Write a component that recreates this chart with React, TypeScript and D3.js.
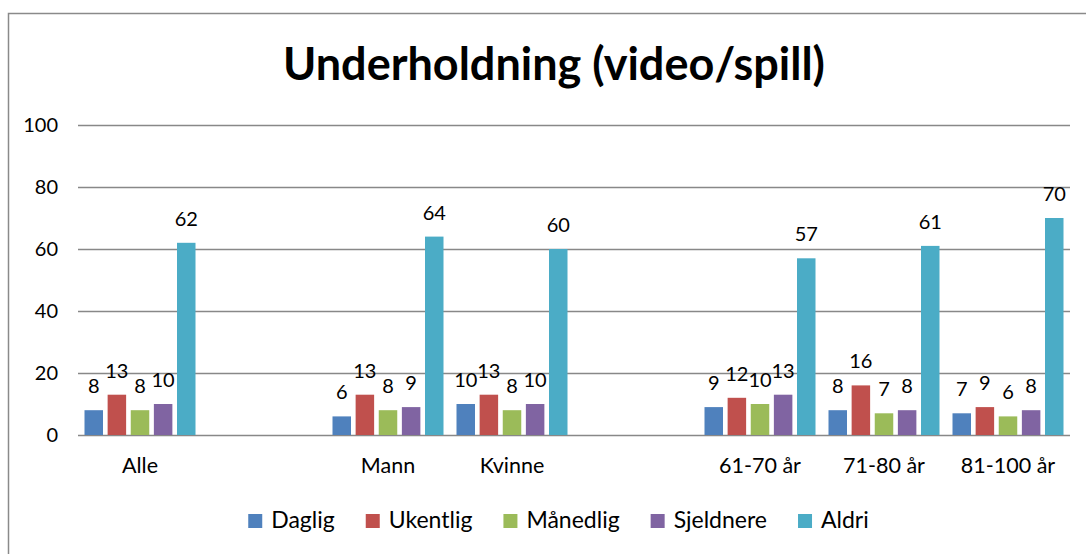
import React, { useEffect, useRef } from 'react';
import * as d3 from 'd3';

const title = 'Underholdning (video/spill)';
const categories = ['Alle', '', 'Mann', 'Kvinne', '', '61-70 år', '71-80 år', '81-100 år'];
const seriesNames = ['Daglig', 'Ukentlig', 'Månedlig', 'Sjeldnere', 'Aldri'];
const colors = ['#4F81BD', '#C0504D', '#9BBB59', '#8064A2', '#4BACC6'];

const daglig = [8, null, 6, 10, null, 9, 8, 7];
const ukentlig = [13, null, 13, 13, null, 12, 16, 9];
const maanedlig = [8, null, 8, 8, null, 10, 7, 6];
const sjeldnere = [10, null, 9, 10, null, 13, 8, 8];
const aldri = [62, null, 64, 60, null, 57, 61, 70];

const yTicks = [0, 20, 40, 60, 80, 100];

const FONT = 'Lato, Carlito, Calibri, sans-serif';

const App = () => {
  const ref = useRef<SVGSVGElement>(null);

  useEffect(() => {
    const width = 1086;
    const height = 554;
    const svg = d3.select(ref.current);
    svg.selectAll('*').remove();

    const values = [daglig, ukentlig, maanedlig, sjeldnere, aldri];

    // chart frame
    svg
      .append('rect')
      .attr('x', 8.5)
      .attr('y', 13.5)
      .attr('width', width + 20)
      .attr('height', height + 20)
      .attr('fill', '#fff')
      .attr('stroke', '#8a8a8a')
      .attr('stroke-width', 1.5);

    svg
      .append('text')
      .attr('x', 554)
      .attr('y', 80)
      .attr('text-anchor', 'middle')
      .attr('font-family', FONT)
      .attr('font-weight', 'bold')
      .attr('font-size', 45)
      .text(title);

    const x = d3
      .scaleBand<number>()
      .domain(categories.map((_, i) => i))
      .range([78, 1070]);

    const xInner = d3
      .scaleBand<string>()
      .domain(seriesNames)
      .range([6.5, x.bandwidth() - 6.5])
      .paddingInner(0.2);

    const y = d3.scaleLinear().domain([0, 100]).range([435, 125]);

    // gridlines
    svg
      .append('g')
      .selectAll('line')
      .data(yTicks)
      .enter()
      .append('line')
      .attr('x1', 78)
      .attr('x2', 1070)
      .attr('y1', (d) => Math.round(y(d)) + 0.5)
      .attr('y2', (d) => Math.round(y(d)) + 0.5)
      .attr('stroke', '#888')
      .attr('stroke-width', 1.5);

    svg
      .append('g')
      .selectAll('text')
      .data(yTicks)
      .enter()
      .append('text')
      .attr('x', 58)
      .attr('y', (d) => y(d) + 7)
      .attr('text-anchor', 'end')
      .attr('font-family', FONT)
      .attr('font-size', 20)
      .text((d) => d);

    // category labels
    svg
      .append('g')
      .selectAll('text')
      .data(categories)
      .enter()
      .append('text')
      .attr('x', (_, i) => (x(i) as number) + x.bandwidth() / 2)
      .attr('y', 473)
      .attr('text-anchor', 'middle')
      .attr('font-family', FONT)
      .attr('font-size', 21.5)
      .text((d) => d);

    // bars + labels
    seriesNames.forEach((name, s) => {
      const pts = values[s]
        .map((v, i) => ({ v, i }))
        .filter((d) => d.v !== null) as { v: number; i: number }[];
      const g = svg.append('g');
      g.selectAll('rect')
        .data(pts)
        .enter()
        .append('rect')
        .attr('x', (d) => (x(d.i) as number) + (xInner(name) as number))
        .attr('y', (d) => y(d.v))
        .attr('width', xInner.bandwidth())
        .attr('height', (d) => y(0) - y(d.v))
        .attr('fill', colors[s]);
      g.selectAll('text')
        .data(pts)
        .enter()
        .append('text')
        .attr('x', (d) => (x(d.i) as number) + (xInner(name) as number) + xInner.bandwidth() / 2)
        .attr('y', (d) => y(d.v) - 17)
        .attr('text-anchor', 'middle')
        .attr('font-family', FONT)
        .attr('font-size', 20)
        .text((d) => d.v);
    });

    // legend
    const legend = svg.append('g');
    const gap = 31;
    let cursor = 0;
    seriesNames.forEach((name, s) => {
      const item = legend.append('g').attr('transform', `translate(${cursor},0)`);
      item
        .append('rect')
        .attr('x', 0)
        .attr('y', 514)
        .attr('width', 14)
        .attr('height', 14)
        .attr('fill', colors[s]);
      const t = item
        .append('text')
        .attr('x', 23)
        .attr('y', 528)
        .attr('font-family', FONT)
        .attr('font-size', 23)
        .text(name);
      const w = (t.node() as SVGTextElement).getComputedTextLength();
      cursor += 23 + w + gap;
    });
    const legendWidth = cursor - gap;
    legend.attr('transform', `translate(${558.5 - legendWidth / 2},0)`);
  }, []);

  return (
    <svg
      ref={ref}
      width={1086}
      height={554}
      style={{ position: 'absolute', left: 0, top: 0, background: '#fff' }}
    />
  );
};

export default App;
